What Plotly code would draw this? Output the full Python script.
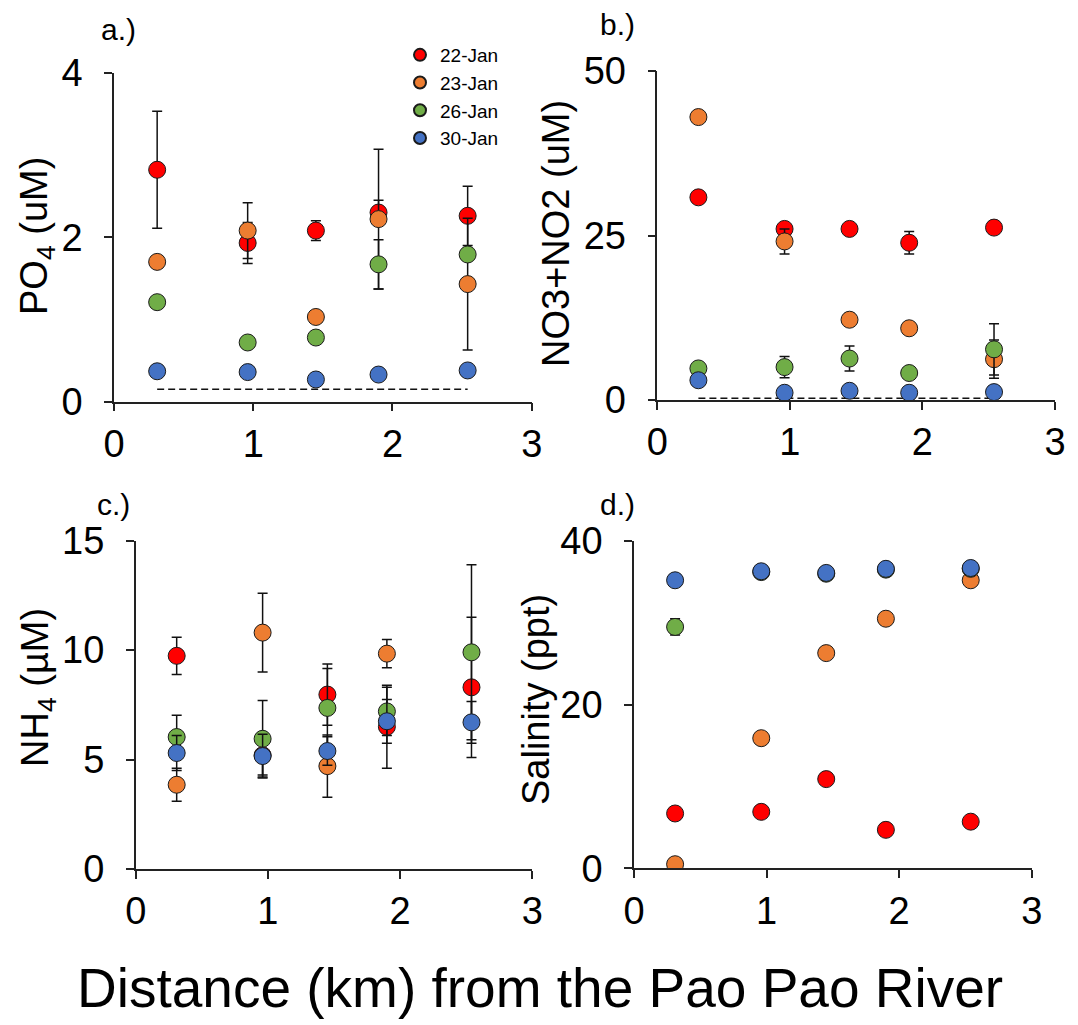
import plotly.graph_objects as go

# ---------------- data ----------------
dates = ["22-Jan", "23-Jan", "26-Jan", "30-Jan"]
colors = ["#FF0000", "#ED7D31", "#70AD47", "#4472C4"]
distance = [0.31, 0.96, 1.45, 1.90, 2.54]

# a.) PO4 (uM)
po4 = [
    [2.82, 1.93, 2.08, 2.30, 2.26],
    [1.70, 2.08, 1.03, 2.22, 1.43],
    [1.21, 0.72, 0.78, 1.67, 1.79],
    [0.37, 0.36, 0.27, 0.33, 0.38],
]
po4_err = [
    [0.71, 0.25, 0.12, 0.15, 0.36],
    [0.04, 0.34, 0.05, 0.85, 0.80],
    [0.03, 0.03, 0.03, 0.30, 0.05],
    [0.02, 0.02, 0.02, 0.02, 0.06],
]
po4_limit_x = [0.31, 2.54]
po4_limit = [0.15, 0.15]

# b.) NO3+NO2 (uM)
nox = [
    [30.8, 26.0, 26.0, 23.9, 26.2],
    [43.0, 24.1, 12.2, 10.9, 6.2],
    [4.8, 5.0, 6.3, 4.1, 7.7],
    [3.0, 1.1, 1.4, 1.1, 1.2],
]
nox_err = [
    [0.3, 0.4, 0.5, 1.7, 0.3],
    [0.3, 1.9, 1.0, 0.5, 2.9],
    [0.3, 1.6, 1.9, 0.3, 3.9],
    [0.3, 0.3, 0.3, 0.3, 0.3],
]
nox_limit_x = [0.31, 2.54]
nox_limit = [0.25, 0.25]

# c.) NH4 (uM)
nh4 = [
    [9.74, 5.20, 7.97, 6.50, 8.30],
    [3.85, 10.80, 4.70, 9.84, None],
    [6.03, 5.95, 7.36, 7.20, 9.90],
    [5.30, 5.16, 5.39, 6.75, 6.70],
]
nh4_err = [
    [0.85, 0.90, 1.40, 1.90, 3.20],
    [0.75, 1.80, 1.42, 0.65, 0.0],
    [1.00, 1.75, 1.80, 1.10, 4.00],
    [0.80, 1.00, 0.65, 1.00, 0.95],
]

# d.) Salinity (ppt)
salinity = [
    [6.7, 6.9, 10.9, 4.7, 5.7],
    [0.5, 15.9, 26.3, 30.5, 35.2],
    [29.5, 36.2, 36.0, 36.5, 36.6],
    [35.2, 36.3, 36.1, 36.6, 36.7],
]
salinity_err = [
    [0.2, 0.2, 0.2, 0.2, 0.2],
    [0.2, 0.2, 0.2, 0.2, 0.2],
    [1.0, 0.2, 0.2, 0.2, 0.2],
    [0.2, 0.2, 0.2, 0.2, 0.2],
]

panel_labels = ["a.)", "b.)", "c.)", "d.)"]
y_titles = ["PO<sub>4</sub> (uM)", "NO3+NO2 (uM)", "NH<sub>4</sub> (\u00b5M)", "Salinity (ppt)"]
y_ranges = [[0, 4], [0, 50], [0, 15], [0, 40]]
y_ticks = [[0, 2, 4], [0, 25, 50], [0, 5, 10, 15], [0, 20, 40]]
x_ticks = [0, 1, 2, 3]
x_title = "Distance (km) from the Pao Pao River"

# ---------------- layout geometry (pixels) ----------------
W, H = 1078, 1025
FONT = "Liberation Sans, Arial, Helvetica, sans-serif"
panels_px = [
    # x0, x1, ytop, ybottom
    (114.0, 531.7, 72.7, 401.7),
    (657.3, 1055.0, 71.0, 400.0),
    (135.7, 532.3, 540.7, 869.0),
    (634.0, 1031.7, 541.0, 868.3),
]
ytitle_pos = [(37, 236), (556, 234), (38, 688), (536, 700)]
label_pos = [(118, 29), (617, 24), (113, 504), (617, 504)]

fig = go.Figure()

datasets = [(po4, po4_err), (nox, nox_err), (nh4, nh4_err), (salinity, salinity_err)]
limits = [(po4_limit_x, po4_limit), (nox_limit_x, nox_limit), None, None]

for p, (vals, errs) in enumerate(datasets):
    xa = "x" if p == 0 else f"x{p+1}"
    ya = "y" if p == 0 else f"y{p+1}"
    if limits[p] is not None:
        lx, ly = limits[p]
        fig.add_trace(go.Scatter(
            x=lx, y=ly, mode="lines", xaxis=xa, yaxis=ya, showlegend=False,
            line=dict(color="#111111", width=1.5, dash="7px,4px"), hoverinfo="skip"))
    for s in range(4):
        fig.add_trace(go.Scatter(
            x=distance, y=vals[s], mode="markers", name=dates[s],
            legendgroup=dates[s], showlegend=(p == 0),
            xaxis=xa, yaxis=ya,
            marker=dict(size=17, color=colors[s], line=dict(color="#1a1a1a", width=1)),
            error_y=dict(type="data", array=errs[s], visible=True,
                         color="#111111", thickness=1.5, width=5),
        ))

layout = dict(
    width=W, height=H,
    margin=dict(l=0, r=0, t=0, b=0),
    paper_bgcolor="white", plot_bgcolor="white",
    font=dict(family=FONT, color="black"),
    showlegend=True,
    legend=dict(x=(440 - 40) / W, xanchor="left", y=1 - 36 / H, yanchor="top",
                font=dict(size=19, family=FONT), itemsizing="constant",
                bgcolor="rgba(0,0,0,0)", tracegroupgap=0),
    annotations=[],
)

for p, (x0, x1, yt, yb) in enumerate(panels_px):
    sfx = "" if p == 0 else str(p + 1)
    layout["xaxis" + sfx] = dict(
        domain=[x0 / W, x1 / W], range=[0, 3], tickvals=x_ticks,
        anchor="y" + sfx, showgrid=False, zeroline=False,
        showline=True, linecolor="#222222", linewidth=1.5,
        ticks="outside", ticklen=8, tickwidth=1.5, tickcolor="#222222",
        tickfont=dict(size=38, family=FONT, color="black"), automargin=False,
    )
    layout["yaxis" + sfx] = dict(
        domain=[1 - yb / H, 1 - yt / H], range=y_ranges[p], tickvals=y_ticks[p],
        anchor="x" + sfx, showgrid=False, zeroline=False,
        showline=True, linecolor="#222222", linewidth=1.5,
        ticks="outside", ticklen=8, tickwidth=1.5, tickcolor="#222222",
        ticklabelstandoff=14,
        tickfont=dict(size=38, family=FONT, color="black"), automargin=False,
    )
    tx, ty = ytitle_pos[p]
    layout["annotations"].append(dict(
        text=y_titles[p], x=tx / W, y=1 - ty / H, xref="paper", yref="paper",
        textangle=-90, showarrow=False, xanchor="center", yanchor="middle",
        font=dict(size=38, family=FONT, color="black")))
    lx, ly = label_pos[p]
    layout["annotations"].append(dict(
        text=panel_labels[p], x=lx / W, y=1 - ly / H, xref="paper", yref="paper",
        showarrow=False, xanchor="center", yanchor="middle",
        font=dict(size=30, family=FONT, color="black")))

layout["annotations"].append(dict(
    text=x_title, x=540 / W, y=1 - 988 / H, xref="paper", yref="paper",
    showarrow=False, xanchor="center", yanchor="middle",
    font=dict(size=55, family=FONT, color="black")))

fig.update_layout(**layout)
fig.write_html("out.html")
